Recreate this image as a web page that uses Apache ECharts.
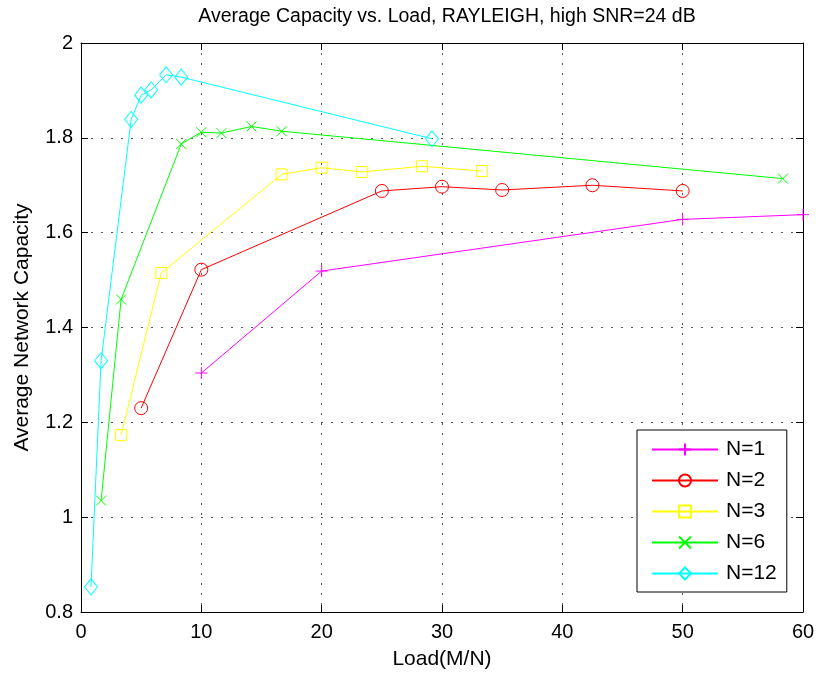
<!DOCTYPE html>
<html>
<head>
<meta charset="utf-8">
<script src="https://cdn.jsdelivr.net/npm/echarts@6/dist/echarts.min.js"></script>
<style>
  html, body { margin: 0; padding: 0; background: #fff; }
  #chart { width: 819px; height: 675px; }
</style>
</head>
<body>
<div id="chart"></div>
<script>
  // load (M/N) and average capacity per N
  const loadN1 = [10, 20, 50, 60];
  const capN1 = [1.304, 1.519, 1.628, 1.638];
  const loadN2 = [5, 10, 25, 30, 35, 42.5, 50];
  const capN2 = [1.230, 1.522, 1.688, 1.697, 1.690, 1.700, 1.688];
  const loadN3 = [3.33, 6.67, 16.67, 20, 23.33, 28.33, 33.33];
  const capN3 = [1.173, 1.515, 1.723, 1.737, 1.728, 1.740, 1.730];
  const loadN6 = [1.67, 3.33, 8.33, 10, 11.67, 14.17, 16.67, 58.33];
  const capN6 = [1.035, 1.459, 1.787, 1.812, 1.810, 1.824, 1.814, 1.714];
  const loadN12 = [0.83, 1.67, 4.17, 5, 5.83, 7.08, 8.33, 29.17];
  const capN12 = [0.853, 1.330, 1.839, 1.890, 1.901, 1.933, 1.928, 1.798];

  const seriesNames = ['N=1', 'N=2', 'N=3', 'N=6', 'N=12'];
  const xTicks = [0, 10, 20, 30, 40, 50, 60];
  const yTicks = [0.8, 1, 1.2, 1.4, 1.6, 1.8, 2];

  const font = '"Liberation Sans", Arial, Helvetica, sans-serif';
  const colors = ['#ff00ff', '#ff0000', '#ffff00', '#00ff00', '#00ffff'];
  const symbols = [
    'path://M5,0L5,10M0,5L10,5',
    'circle',
    'rect',
    'path://M0,0L10,10M10,0L0,10',
    'diamond'
  ];
  const sizes = [12, 13, 11, 10, [13, 16]];

  const loads = [loadN1, loadN2, loadN3, loadN6, loadN12];
  const caps = [capN1, capN2, capN3, capN6, capN12];

  let series = [];
  for (let i = 0; i < seriesNames.length; i++) {
    let pts = [];
    for (let k = 0; k < loads[i].length; k++) {
      pts.push([loads[i][k], caps[i][k]]);
    }
    series.push({
      name: seriesNames[i],
      type: 'line',
      xAxisIndex: 0,
      yAxisIndex: 0,
      data: pts,
      symbol: symbols[i],
      symbolSize: sizes[i],
      showSymbol: true,
      showAllSymbol: true,
      lineStyle: { color: colors[i], width: 1 },
      itemStyle: { color: 'rgba(0,0,0,0)', borderColor: colors[i], borderWidth: 1 },
      emphasis: { disabled: true },
      z: 3
    });
  }

  const dotted = { type: [2, 8], color: '#555', width: 1 };

  const chart = echarts.init(document.getElementById('chart'));
  chart.setOption({
    animation: false,
    backgroundColor: '#fff',
    title: {
      text: 'Average Capacity vs. Load, RAYLEIGH, high SNR=24 dB',
      left: 442,
      top: 2,
      textAlign: 'center',
      textStyle: { fontFamily: font, fontSize: 19.5, fontWeight: 'normal', color: '#000' }
    },
    grid: { left: 81, right: 16, top: 43, bottom: 62 },
    legend: {
      data: seriesNames,
      orient: 'vertical',
      left: 637,
      top: 430,
      itemWidth: 66,
      itemHeight: 15,
      itemGap: 10,
      padding: [9, 10, 8, 14],
      borderColor: '#000',
      borderWidth: 1,
      backgroundColor: '#fff',
      textStyle: { fontFamily: font, fontSize: 21, color: '#000', padding: [0, 0, 0, 3] }
    },
    xAxis: [
      {
        type: 'value',
        min: xTicks[0],
        max: xTicks[xTicks.length - 1],
        interval: 10,
        name: 'Load(M/N)',
        nameLocation: 'middle',
        nameGap: 37,
        nameTextStyle: { fontFamily: font, fontSize: 21, color: '#000' },
        axisLine: { onZero: false, lineStyle: { color: '#000', width: 1 } },
        axisTick: { inside: true, length: 7, lineStyle: { color: '#000' } },
        axisLabel: { fontFamily: font, fontSize: 20, color: '#000', margin: 10 },
        splitLine: { show: true, lineStyle: dotted }
      },
      {
        type: 'value',
        position: 'top',
        min: xTicks[0],
        max: xTicks[xTicks.length - 1],
        interval: 10,
        axisLine: { onZero: false, lineStyle: { color: '#000', width: 1 } },
        axisTick: { inside: true, length: 7, lineStyle: { color: '#000' } },
        axisLabel: { show: false },
        splitLine: { show: false }
      }
    ],
    yAxis: [
      {
        type: 'value',
        min: yTicks[0],
        max: yTicks[yTicks.length - 1],
        interval: 0.2,
        name: 'Average Network Capacity',
        nameLocation: 'middle',
        nameGap: 48,
        nameTextStyle: { fontFamily: font, fontSize: 21, color: '#000' },
        axisLine: { show: true, onZero: false, lineStyle: { color: '#000', width: 1 } },
        axisTick: { show: true, inside: true, length: 7, lineStyle: { color: '#000' } },
        axisLabel: { fontFamily: font, fontSize: 20, color: '#000', margin: 8 },
        splitLine: { show: true, lineStyle: dotted }
      },
      {
        type: 'value',
        position: 'right',
        min: yTicks[0],
        max: yTicks[yTicks.length - 1],
        interval: 0.2,
        axisLine: { show: true, onZero: false, lineStyle: { color: '#000', width: 1 } },
        axisTick: { show: true, inside: true, length: 7, lineStyle: { color: '#000' } },
        axisLabel: { show: false },
        splitLine: { show: false }
      }
    ],
    series: series
  });
</script>
</body>
</html>
